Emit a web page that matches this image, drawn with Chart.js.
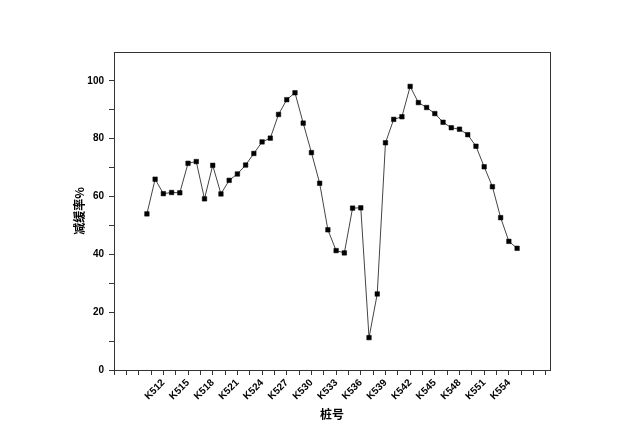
<!DOCTYPE html>
<html>
<head>
<meta charset="utf-8">
<script src="https://cdn.jsdelivr.net/npm/chart.js@4/dist/chart.umd.min.js"></script>
<style>
  html, body { margin: 0; background: #fff; }
  #wrap { width: 640px; height: 444px; }
</style>
</head>
<body>
<div id="wrap"><canvas id="chart"></canvas></div>
<script>
// station numbers (K510 .. K555) and measured reduction rate in %
const stations = [510, 511, 512, 513, 514, 515, 516, 517, 518, 519,
  520, 521, 522, 523, 524, 525, 526, 527, 528, 529,
  530, 531, 532, 533, 534, 535, 536, 537, 538, 539,
  540, 541, 542, 543, 544, 545, 546, 547, 548, 549,
  550, 551, 552, 553, 554, 555]
const rates = [54.0, 66.0, 61.0, 61.4, 61.3, 71.5, 72.1, 59.2, 70.8, 60.9,
  65.6, 67.8, 70.9, 74.9, 78.9, 80.2, 88.4, 93.5, 95.9, 85.4,
  75.2, 64.6, 48.5, 41.3, 40.5, 56.0, 56.1, 11.2, 26.3, 78.6,
  86.7, 87.6, 98.1, 92.5, 90.8, 88.7, 85.7, 83.8, 83.3, 81.4,
  77.4, 70.3, 63.4, 52.7, 44.5, 42.1]

// labelled ticks
const xTickLabels = [512, 515, 518, 521, 524, 527, 530, 533, 536, 539, 542, 545, 548, 551, 554]
const yTickLabels = [0, 20, 40, 60, 80, 100]

const xMin = 506, xMax = 559, xStep = 1.5
const yMin = 0, yMax = 110, yStep = 10

const tickFont = { family: 'Liberation Sans, Arial, sans-serif', size: 10, weight: 'bold' }
const titleFont = { family: '"Noto Sans CJK SC", sans-serif', size: 12, weight: 'bold' }

// full box around the plot area
const frame = {
  id: 'frame',
  afterDatasetsDraw(chart) {
    const { ctx, chartArea: a } = chart
    ctx.save()
    ctx.strokeStyle = '#333'
    ctx.lineWidth = 1
    ctx.strokeRect(a.left + 0.5, a.top + 0.5, a.right - a.left, a.bottom - a.top)
    ctx.restore()
  }
}

new Chart(document.getElementById('chart').getContext('2d'), {
  type: 'line',
  data: {
    datasets: [
      {
        label: '减缓率',
        data: stations.map((s, i) => ({ x: s, y: rates[i] })),
        borderColor: '#444',
        borderWidth: 1,
        pointStyle: 'rect',
        pointRadius: 3.2,
        pointBackgroundColor: '#000',
        pointBorderColor: '#000',
        pointBorderWidth: 0.5,
        tension: 0,
      },
    ],
  },
  options: {
    responsive: true,
    maintainAspectRatio: false,
    animation: false,
    layout: { padding: { left: 72, top: 52, right: 90, bottom: 22 } },
    plugins: {
      legend: { display: false },
      tooltip: { enabled: false },
    },
    scales: {
      x: {
        type: 'linear',
        min: xMin,
        max: xMax,
        afterBuildTicks(scale) {
          const ticks = []
          for (let v = xMin; v < xMax; v += xStep) ticks.push({ value: v })
          scale.ticks = ticks
        },
        afterFit(scale) { scale.height = 52 },
        border: { color: '#333', width: 1 },
        grid: { drawOnChartArea: false, drawTicks: true, tickLength: 5, tickColor: '#333' },
        ticks: {
          autoSkip: false,
          maxRotation: 45,
          minRotation: 45,
          padding: 2,
          color: '#000',
          font: tickFont,
          callback: (v) => (xTickLabels.includes(v) ? 'K' + v : ''),
        },
        title: { display: true, text: '桩号', color: '#000', font: titleFont, padding: 0 },
      },
      y: {
        min: yMin,
        max: yMax,
        afterFit(scale) { scale.width = 42 },
        border: { color: '#333', width: 1 },
        grid: {
          drawOnChartArea: false,
          tickLength: 5,
          tickColor: (c) => (c.tick && c.tick.value >= yMax ? 'rgba(0,0,0,0)' : '#333'),
        },
        ticks: {
          stepSize: yStep,
          padding: 5,
          color: '#000',
          font: tickFont,
          callback: (v) => (yTickLabels.includes(v) ? String(v) : ''),
        },
        title: { display: true, text: '减缓率%', color: '#000', font: titleFont, padding: 0 },
      },
    },
  },
  plugins: [frame],
})
</script>
</body>
</html>
